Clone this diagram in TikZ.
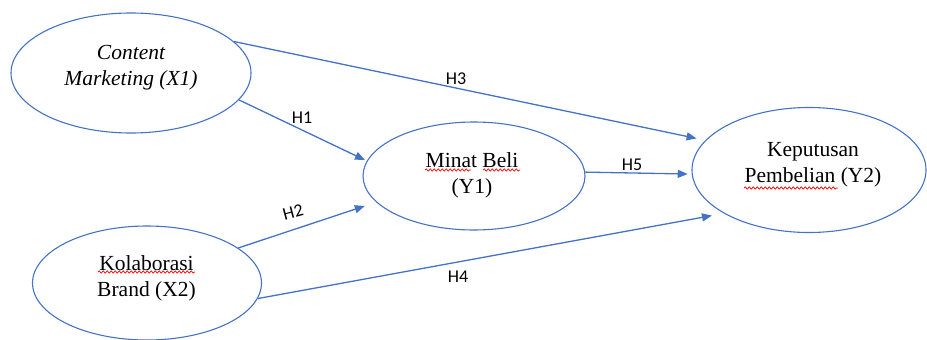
\documentclass[tikz,border=0pt]{standalone}
\usepackage{fontspec}
\setmainfont{Liberation Serif}
\newfontfamily\labfont{Carlito}
\usetikzlibrary{arrows.meta,decorations.pathmorphing,shapes.geometric}
\definecolor{lineblue}{HTML}{4472C4}
\begin{document}
\begin{tikzpicture}[x=1pt,y=-1pt,
  oval/.style={draw=lineblue, line width=1.1pt, ellipse, inner sep=0pt},
  txt/.style={align=center, font=\fontsize{21.5}{26}\selectfont, inner sep=0pt},
  hyp/.style={draw=lineblue, line width=1.3pt, -{Triangle[length=10pt,width=8pt]}},
  hl/.style={font=\labfont\fontsize{18}{20}\selectfont, inner sep=0pt},
  squig/.style={draw=red, line width=0.7pt, decorate, decoration={snake, amplitude=1.1pt, segment length=4pt}}]
\useasboundingbox (0,0) rectangle (927,340);
% ellipses
\node[oval, minimum width=240pt, minimum height=120pt] (x1) at (131,73) {};
\node[oval, minimum width=229pt, minimum height=114pt] (x2) at (147,283) {};
\node[oval, minimum width=222pt, minimum height=108pt] (y1) at (474,176) {};
\node[oval, minimum width=234pt, minimum height=125pt] (y2) at (809,170) {};
% texts
\node[txt] (x1t) at (131,67.5) {\itshape Content\\\itshape Marketing (X1)};
\node[txt] (x2t) at (146.5,278.5) {Kolaborasi\\Brand (X2)};
\node[txt] (y1t) at (472,175.5) {Minat Beli\\(Y1)};
\node[txt] (y2t) at (813,165) {Keputusan\\Pembelian (Y2)};
% spell-check squiggles
\draw[squig] (98,272) -- (195,272);
\draw[squig] (425,170) -- (471,170);
\draw[squig] (483,170) -- (520,170);
\draw[squig] (744,188) -- (838,188);
% connectors
\draw[hyp, shorten >=9pt] (x1.17) -- (y2.164);
\draw[hyp, shorten >=2pt] (x1.-14) -- (y1.172);
\draw[hyp, shorten >=12pt] (x2.21) -- (y1.195);
\draw[hyp, shorten >=12pt] (x2.-8) -- (y2.207);
\draw[hyp, shorten >=4pt] (y1.2) -- (y2.182);
% labels
\node[hl] (h3) at (456,79) {H3};
\node[hl] (h1) at (302,118) {H1};
\node[hl, rotate=15] (h2) at (293,212) {H2};
\node[hl] (h4) at (458,277) {H4};
\node[hl] (h5) at (632,165) {H5};
\end{tikzpicture}
\end{document}
